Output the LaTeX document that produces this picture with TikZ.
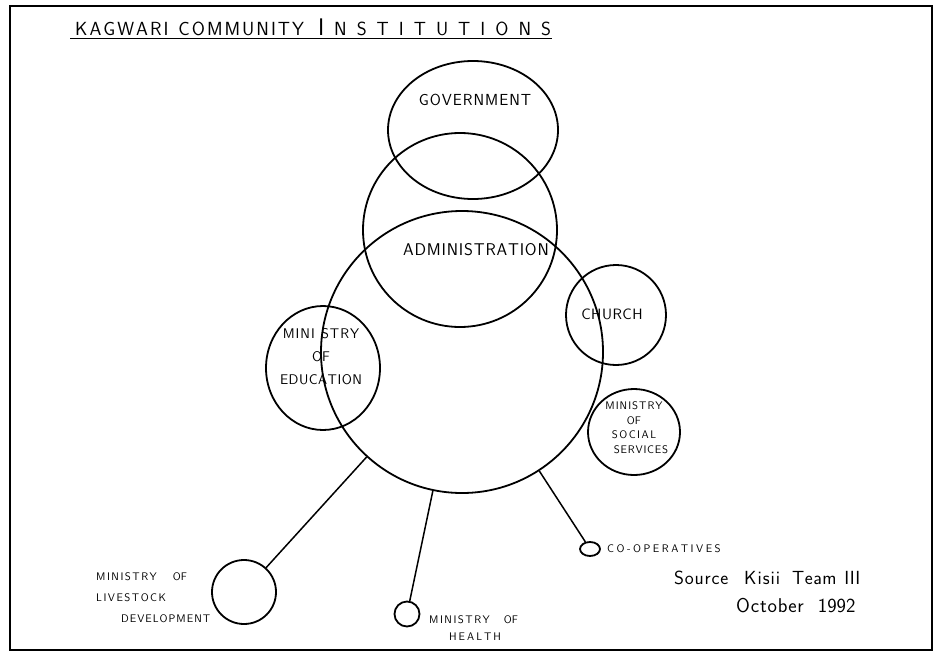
\documentclass[tikz,border=0pt]{standalone}
\usepackage{amsmath}
\usetikzlibrary{positioning, shapes.geometric}

% letter spacing for the hand lettering
\makeatletter
\newcommand\spaced[2]{\def\sp@sep{\kern#1}\@tfor\sp@c:=#2\do{\sp@c\sp@sep}\unkern}
\makeatother

\begin{document}
\begin{tikzpicture}[
    x=1pt, y=-1pt,
    ring/.style={draw, circle, line width=1.8pt, inner sep=0pt},
    oval/.style={draw, ellipse, line width=1.8pt, inner sep=0pt},
    link/.style={line width=1.5pt},
    lbl/.style={align=center, inner sep=1pt, font=\sffamily},
    frame/.style={line width=2.6pt}
]

% fixed size of the sheet
\useasboundingbox (0,0) rectangle (936,656);
\draw[frame] (10,6) rectangle (932,650);

% Title
\node[lbl, anchor=west, font=\sffamily\fontsize{19}{21}\selectfont] (title) at (74,27)
    {\spaced{2pt}{KAGWARI~COMMUNITY}\hspace{14pt}\spaced{10pt}{{{\fontsize{24}{24}\selectfont I}}NSTITUTIONS}};
\draw[line width=1.4pt] ([xshift=-4pt, yshift=-2pt]title.south west) -- ([yshift=-2pt]title.south east);

% Main circles
\node[oval, minimum width=170pt, minimum height=138pt] (govt) at (473,130) {};
\node[ring, minimum size=194pt] (admin) at (460,230) {};
\node[ring, minimum size=282pt] (comm) at (462,352) {};
\node[ring, minimum size=100pt] (church) at (616,315) {};
\node[oval, minimum width=114pt, minimum height=124pt] (educ) at (323,368) {};
\node[oval, minimum width=92pt, minimum height=86pt] (social) at (634,432) {};

% Outer institutions
\node[ring, minimum size=64pt] (lvst) at (244,592) {};
\node[ring, minimum size=25pt] (health) at (407,614) {};
\node[oval, minimum width=20pt, minimum height=14pt] (coop) at (590,549) {};

% Links from the community
\draw[link] (comm) -- (lvst);
\draw[link] (comm) -- (health);
\draw[link] (comm) -- (coop);

% Labels
\node[lbl, font=\sffamily\fontsize{16}{18}\selectfont] (govt_t) at (475,100) {\spaced{1pt}{GOVERNMENT}};
\node[lbl, font=\sffamily\fontsize{17}{19}\selectfont] (admin_t) at (476,250) {\spaced{0.8pt}{ADMINISTRATION}};
\node[lbl, font=\sffamily\fontsize{15}{17}\selectfont] (church_t) at (612,314) {\spaced{0.5pt}{CHURCH}};
\node[lbl, font=\sffamily\fontsize{14}{23}\selectfont] (educ_t) at (321,357)
    {\spaced{1pt}{MINI~STRY}\\OF\\\spaced{0.5pt}{EDUCATION}};
\node[lbl, font=\sffamily\fontsize{11}{15}\selectfont] (social_t) at (634,428)
    {\spaced{1pt}{MINISTRY}\\OF\\[-1pt]\spaced{1.5pt}{SOCIAL}\hspace{14pt}\\\hspace{14pt}\spaced{0.8pt}{SERVICES}};
\node[lbl, align=left, anchor=west, font=\sffamily\fontsize{11}{21}\selectfont] (lvst_t) at (95,598)
    {\spaced{1.5pt}{MINISTRY}\hspace{16pt}OF\\\spaced{1.5pt}{LIVESTOCK}\\\hspace*{25pt}\spaced{1pt}{DEVELOPMENT}};
\node[lbl, align=left, anchor=west, font=\sffamily\fontsize{11}{17}\selectfont] (health_t) at (428,628)
    {\spaced{1.5pt}{MINISTRY}\hspace{14pt}OF\\\hspace*{20pt}\spaced{2pt}{HEALTH}};
\node[lbl, anchor=west, font=\sffamily\fontsize{11}{13}\selectfont] (coop_t) at (606,549) {\spaced{2.5pt}{CO-OPERATIVES}};

% Source
\node[lbl, anchor=west, font=\sffamily\fontsize{19}{21}\selectfont] (src) at (673,578)
    {\spaced{0.8pt}{Source}\hspace{16pt}\spaced{1pt}{Kisii}\hspace{12pt}\spaced{0.5pt}{Team}\hspace{8pt}III};
\node[lbl, anchor=west, font=\sffamily\fontsize{20}{22}\selectfont] (date) at (735,606) {\spaced{0.8pt}{October}\hspace{14pt}1992};

\end{tikzpicture}
\end{document}
